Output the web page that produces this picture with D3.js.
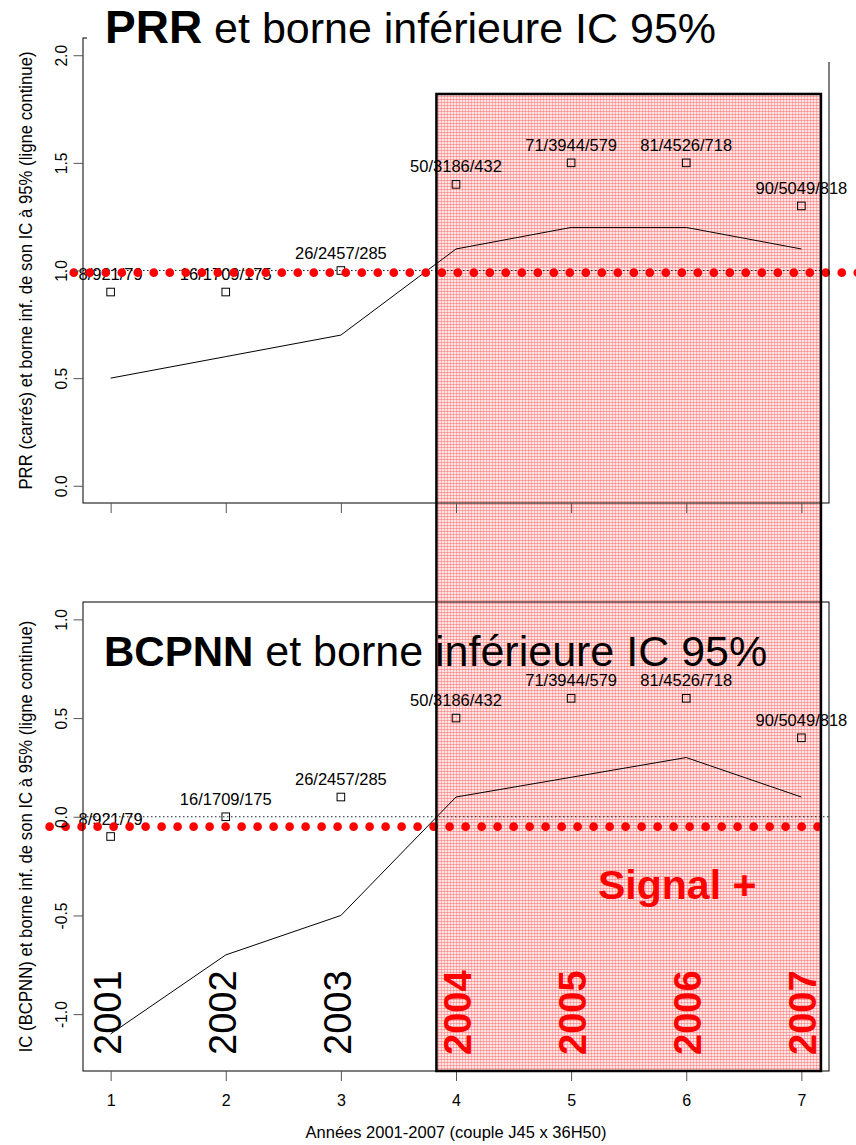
<!DOCTYPE html>
<html><head><meta charset="utf-8">
<script src="https://cdn.jsdelivr.net/npm/d3@7"></script>
<style>
body{margin:0;background:#fff}
svg{display:block}
text{font-family:"Liberation Sans", Arial, Helvetica, sans-serif}
</style>
</head><body>
<svg id="c" width="856" height="1145"></svg>
<script>
// ---------- data ----------
const xValues = [1, 2, 3, 4, 5, 6, 7];
const years = ["2001", "2002", "2003", "2004", "2005", "2006", "2007"];
const signalYears = [false, false, false, true, true, true, true];
const counts = ["8/921/79", "16/1709/175", "26/2457/285", "50/3186/432", "71/3944/579", "81/4526/718", "90/5049/818"];
const prr = [0.9, 0.9, 1.0, 1.4, 1.5, 1.5, 1.3];
const prrLower = [0.5, 0.6, 0.7, 1.1, 1.2, 1.2, 1.1];
const ic = [-0.1, 0.0, 0.1, 0.5, 0.6, 0.6, 0.4];
const icLower = [-1.1, -0.7, -0.5, 0.1, 0.2, 0.3, 0.1];
const xTicks = [1, 2, 3, 4, 5, 6, 7];
const prrTicks = [0, 0.5, 1, 1.5, 2];
const icTicks = [-1, -0.5, 0, 0.5, 1];
const prrTickLabels = ["0.0", "0.5", "1.0", "1.5", "2.0"];
const icTickLabels = ["-1.0", "-0.5", "0.0", "0.5", "1.0"];
const signalRange = [3.83, 7.17];
const signalTopPrr = 1.82;
const prrThreshold = 1.0, icThreshold = 0.0;
const prrRedLine = 0.99, icRedLine = -0.05;
const prrRedSpan = [0.68, 7.53], icRedSpan = [0.47, 7.17];
const titleTop = ["PRR", " et borne inférieure IC 95%"];
const titleBot = ["BCPNN", " et borne inférieure IC 95%"];
const yTitleTop = "PRR (carrés) et borne inf. de son IC à 95% (ligne continue)";
const yTitleBot = "IC (BCPNN) et borne inf. de son IC à 95% (ligne continue)";
const xTitle = "Années 2001-2007 (couple J45 x 36H50)";
const signalText = "Signal +";

// ---------- layout ----------
const L = 83, R = 829;
const svg = d3.select("#c");
const x = d3.scaleLinear().domain([0.76, 7.24]).range([L, R]);
const yT = d3.scaleLinear().domain([-0.08, 2.08]).range([503, 38]);
const yB = d3.scaleLinear().domain([-1.288, 1.088]).range([1071, 602]);

// pattern
const defs = svg.append("defs");
const pat = defs.append("pattern").attr("id", "pk").attr("width", 3).attr("height", 3)
  .attr("patternUnits", "userSpaceOnUse");
pat.append("rect").attr("width", 3).attr("height", 3).attr("fill", "#ffe6e6");
pat.append("rect").attr("width", 3).attr("height", 1).attr("fill", "#ffa6a6");
pat.append("rect").attr("width", 1).attr("height", 3).attr("fill", "#ffb4b4");
pat.append("rect").attr("width", 1).attr("height", 1).attr("fill", "#ff8a8a");

// signal region fill
const sx0 = x(signalRange[0]), sx1 = x(signalRange[1]);
const sy0 = yT(signalTopPrr), sy1 = yB.range()[0];
svg.append("rect").attr("x", sx0).attr("y", sy0).attr("width", sx1 - sx0).attr("height", sy1 - sy0)
  .attr("fill", "url(#pk)");

function panel(y, vals, lower, thr, red, redSpan) {
  const g = svg.append("g");
  // threshold dotted line
  g.append("line").attr("x1", L).attr("x2", R).attr("y1", y(thr)).attr("y2", y(thr))
    .attr("stroke", "#222").attr("stroke-width", 1).attr("stroke-dasharray", "1.5 2.5");
  // lower bound line
  g.append("path").datum(lower)
    .attr("d", d3.line().x((d, i) => x(xValues[i])).y(d => y(d)))
    .attr("fill", "none").attr("stroke", "#000").attr("stroke-width", 1);
  // squares
  g.selectAll("rect.pt").data(vals).enter().append("rect")
    .attr("x", (d, i) => x(xValues[i]) - 3.8).attr("y", d => y(d) - 3.8)
    .attr("width", 7.6).attr("height", 7.6)
    .attr("fill", "none").attr("stroke", "#000").attr("stroke-width", 1);
  // labels
  g.selectAll("text.lab").data(vals).enter().append("text")
    .attr("x", (d, i) => x(xValues[i])).attr("y", d => y(d) - 12)
    .attr("text-anchor", "middle").attr("font-size", 16.5).attr("fill", "#000")
    .text((d, i) => counts[i]);
  // red dotted line
  g.append("line").attr("x1", x(redSpan[0])).attr("x2", x(redSpan[1]))
    .attr("y1", y(red)).attr("y2", y(red))
    .attr("stroke", "#ff0000").attr("stroke-width", 8.7)
    .attr("stroke-linecap", "round").attr("stroke-dasharray", "0 16");
}
panel(yT, prr, prrLower, prrThreshold, prrRedLine, prrRedSpan);
panel(yB, ic, icLower, icThreshold, icRedLine, icRedSpan);

// boxes
svg.append("rect").attr("x", L).attr("y", yT.range()[1]).attr("width", R - L)
  .attr("height", yT.range()[0] - yT.range()[1]).attr("fill", "none").attr("stroke", "#000");
svg.append("rect").attr("x", L).attr("y", yB.range()[1]).attr("width", R - L)
  .attr("height", yB.range()[0] - yB.range()[1]).attr("fill", "none").attr("stroke", "#000");

// y axes
function yAxis(y, ticks, labels) {
  const g = svg.append("g").attr("transform", `translate(${L},0)`)
    .call(d3.axisLeft(y).tickValues(ticks).tickSize(9.5).tickSizeOuter(0)
      .tickFormat((d, i) => labels[i]));
  g.select(".domain").remove();
  g.selectAll(".tick line").attr("stroke", "#555");
  g.selectAll(".tick text").attr("x", null).attr("dy", null)
    .attr("transform", "translate(-16.3,0) rotate(-90) scale(0.92,1)")
    .attr("text-anchor", "middle").attr("font-size", 17).attr("fill", "#000")
    .attr("font-family", null);
}
yAxis(yT, prrTicks, prrTickLabels);
yAxis(yB, icTicks, icTickLabels);

// x axes
const gxT = svg.append("g").attr("transform", `translate(0,${yT.range()[0]})`)
  .call(d3.axisBottom(x).tickValues(xTicks).tickSize(10).tickSizeOuter(0).tickFormat(""));
gxT.select(".domain").remove();
gxT.selectAll(".tick line").attr("stroke", "#555");
const gxB = svg.append("g").attr("transform", `translate(0,${yB.range()[0]})`)
  .call(d3.axisBottom(x).tickValues(xTicks).tickSize(10).tickSizeOuter(0).tickPadding(13.6)
    .tickFormat(d3.format("d")));
gxB.select(".domain").remove();
gxB.selectAll(".tick line").attr("stroke", "#555");
gxB.selectAll(".tick text").attr("font-size", 16).attr("fill", "#000").attr("font-family", null);

// signal region border
svg.append("rect").attr("x", sx0).attr("y", sy0).attr("width", sx1 - sx0).attr("height", sy1 - sy0)
  .attr("fill", "none").attr("stroke", "#000").attr("stroke-width", 2.5);

// top title with white background
svg.append("rect").attr("x", 87).attr("y", 0).attr("width", 856 - 87).attr("height", 62).attr("fill", "#fff");
const t1 = svg.append("text").attr("x", 105).attr("y", 43).attr("fill", "#000");
t1.append("tspan").attr("font-weight", "bold").attr("font-size", 46).text(titleTop[0]);
t1.append("tspan").attr("font-size", 43).text(titleTop[1]);
const t2 = svg.append("text").attr("x", 104).attr("y", 666).attr("fill", "#000");
t2.append("tspan").attr("font-weight", "bold").attr("font-size", 42).text(titleBot[0]);
t2.append("tspan").attr("font-size", 43).text(titleBot[1]);

// axis titles
svg.append("text").attr("transform", `translate(31.7,${(yT.range()[0] + yT.range()[1]) / 2}) rotate(-90) scale(0.93,1)`)
  .attr("text-anchor", "middle").attr("font-size", 18).text(yTitleTop);
svg.append("text").attr("transform", `translate(31.7,${(yB.range()[0] + yB.range()[1]) / 2}) rotate(-90) scale(0.93,1)`)
  .attr("text-anchor", "middle").attr("font-size", 18).text(yTitleBot);
svg.append("text").attr("x", (L + R) / 2).attr("y", 1138).attr("text-anchor", "middle")
  .attr("font-size", 16.5).text(xTitle);

// years
svg.selectAll("text.yr").data(years).enter().append("text")
  .attr("transform", (d, i) => `translate(${x(xValues[i]) + (signalYears[i] ? 15 : 10)},1055) rotate(-90)`)
  .attr("font-size", 38)
  .attr("font-weight", (d, i) => signalYears[i] ? "bold" : "normal")
  .attr("fill", (d, i) => signalYears[i] ? "#ff0000" : "#000")
  .text(d => d);

// signal text
svg.append("text").attr("x", 598).attr("y", 899).attr("font-size", 41).attr("font-weight", "bold")
  .attr("fill", "#ff0000").text(signalText);
</script>
</body></html>
